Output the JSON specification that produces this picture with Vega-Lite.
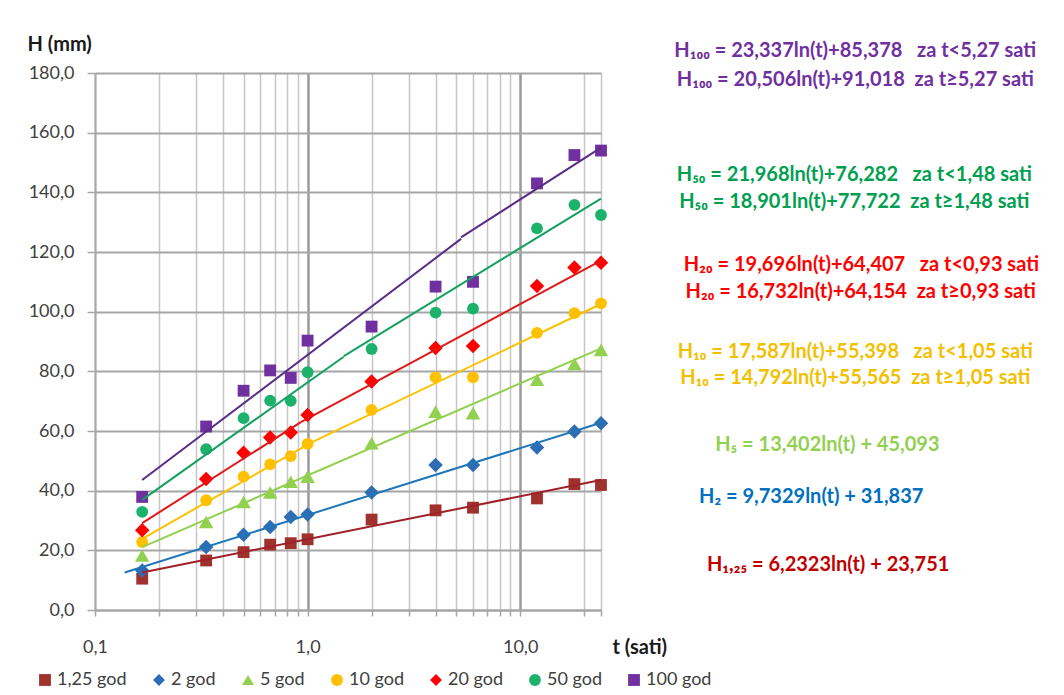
{
  "$schema": "https://vega.github.io/schema/vega-lite/v6.json",
  "width": 506,
  "height": 537,
  "autosize": "none",
  "padding": {"left": 95, "top": 73, "right": 463, "bottom": 85},
  "background": "white",
  "config": {"view": {"stroke": null}, "font": "Lato"},
  "datasets": {
    "pts": [
      {"series": "1,25 god", "t": 0.1667, "H": 10.5}, {"series": "1,25 god", "t": 0.3333, "H": 16.6}, {"series": "1,25 god", "t": 0.5, "H": 19.4}, {"series": "1,25 god", "t": 0.6667, "H": 21.9}, {"series": "1,25 god", "t": 0.8333, "H": 22.4}, {"series": "1,25 god", "t": 1, "H": 23.7}, {"series": "1,25 god", "t": 2, "H": 30.3}, {"series": "1,25 god", "t": 4, "H": 33.4}, {"series": "1,25 god", "t": 6, "H": 34.3}, {"series": "1,25 god", "t": 12, "H": 37.4}, {"series": "1,25 god", "t": 18, "H": 42.2}, {"series": "1,25 god", "t": 24, "H": 41.9},
      {"series": "2 god", "t": 0.1667, "H": 13.2}, {"series": "2 god", "t": 0.3333, "H": 21.1}, {"series": "2 god", "t": 0.5, "H": 25.2}, {"series": "2 god", "t": 0.6667, "H": 27.8}, {"series": "2 god", "t": 0.8333, "H": 31.2}, {"series": "2 god", "t": 1, "H": 32.0}, {"series": "2 god", "t": 2, "H": 39.4}, {"series": "2 god", "t": 4, "H": 48.6}, {"series": "2 god", "t": 6, "H": 48.6}, {"series": "2 god", "t": 12, "H": 54.5}, {"series": "2 god", "t": 18, "H": 59.8}, {"series": "2 god", "t": 24, "H": 62.6},
      {"series": "5 god", "t": 0.1667, "H": 18.3}, {"series": "5 god", "t": 0.3333, "H": 29.5}, {"series": "5 god", "t": 0.5, "H": 36.2}, {"series": "5 god", "t": 0.6667, "H": 39.4}, {"series": "5 god", "t": 0.8333, "H": 43.0}, {"series": "5 god", "t": 1, "H": 44.7}, {"series": "5 god", "t": 2, "H": 55.9}, {"series": "5 god", "t": 4, "H": 66.5}, {"series": "5 god", "t": 6, "H": 66.0}, {"series": "5 god", "t": 12, "H": 77.2}, {"series": "5 god", "t": 18, "H": 82.5}, {"series": "5 god", "t": 24, "H": 87.2},
      {"series": "10 god", "t": 0.1667, "H": 22.8}, {"series": "10 god", "t": 0.3333, "H": 36.8}, {"series": "10 god", "t": 0.5, "H": 44.7}, {"series": "10 god", "t": 0.6667, "H": 48.8}, {"series": "10 god", "t": 0.8333, "H": 51.6}, {"series": "10 god", "t": 1, "H": 55.7}, {"series": "10 god", "t": 2, "H": 67.1}, {"series": "10 god", "t": 4, "H": 78.0}, {"series": "10 god", "t": 6, "H": 78.0}, {"series": "10 god", "t": 12, "H": 92.9}, {"series": "10 god", "t": 18, "H": 99.5}, {"series": "10 god", "t": 24, "H": 102.8},
      {"series": "20 god", "t": 0.1667, "H": 26.7}, {"series": "20 god", "t": 0.3333, "H": 43.9}, {"series": "20 god", "t": 0.5, "H": 52.7}, {"series": "20 god", "t": 0.6667, "H": 57.8}, {"series": "20 god", "t": 0.8333, "H": 59.5}, {"series": "20 god", "t": 1, "H": 65.4}, {"series": "20 god", "t": 2, "H": 76.6}, {"series": "20 god", "t": 4, "H": 87.8}, {"series": "20 god", "t": 6, "H": 88.5}, {"series": "20 god", "t": 12, "H": 108.6}, {"series": "20 god", "t": 18, "H": 114.8}, {"series": "20 god", "t": 24, "H": 116.4},
      {"series": "50 god", "t": 0.1667, "H": 32.9}, {"series": "50 god", "t": 0.3333, "H": 53.9}, {"series": "50 god", "t": 0.5, "H": 64.3}, {"series": "50 god", "t": 0.6667, "H": 70.2}, {"series": "50 god", "t": 0.8333, "H": 70.1}, {"series": "50 god", "t": 1, "H": 79.7}, {"series": "50 god", "t": 2, "H": 87.5}, {"series": "50 god", "t": 4, "H": 99.7}, {"series": "50 god", "t": 6, "H": 101.0}, {"series": "50 god", "t": 12, "H": 127.9}, {"series": "50 god", "t": 18, "H": 135.8}, {"series": "50 god", "t": 24, "H": 132.4},
      {"series": "100 god", "t": 0.1667, "H": 37.9}, {"series": "100 god", "t": 0.3333, "H": 61.5}, {"series": "100 god", "t": 0.5, "H": 73.5}, {"series": "100 god", "t": 0.6667, "H": 80.3}, {"series": "100 god", "t": 0.8333, "H": 77.8}, {"series": "100 god", "t": 1, "H": 90.3}, {"series": "100 god", "t": 2, "H": 95.0}, {"series": "100 god", "t": 4, "H": 108.4}, {"series": "100 god", "t": 6, "H": 110.0}, {"series": "100 god", "t": 12, "H": 143.0}, {"series": "100 god", "t": 18, "H": 152.5}, {"series": "100 god", "t": 24, "H": 154.0}
    ],
    "trend": [
      {"series": "1,25 god", "seg": "a", "t": 0.1667, "H": 12.58}, {"series": "1,25 god", "seg": "a", "t": 24, "H": 43.56},
      {"series": "2 god", "seg": "a", "t": 0.138, "H": 12.56}, {"series": "2 god", "seg": "a", "t": 24, "H": 62.77},
      {"series": "5 god", "seg": "a", "t": 0.1667, "H": 21.08}, {"series": "5 god", "seg": "a", "t": 24, "H": 87.69},
      {"series": "10 god", "seg": "a", "t": 0.1667, "H": 23.88}, {"series": "10 god", "seg": "a", "t": 1.05, "H": 56.26},
      {"series": "10 god", "seg": "b", "t": 1.05, "H": 56.29}, {"series": "10 god", "seg": "b", "t": 24, "H": 102.57},
      {"series": "20 god", "seg": "a", "t": 0.1667, "H": 29.12}, {"series": "20 god", "seg": "a", "t": 0.93, "H": 62.98},
      {"series": "20 god", "seg": "b", "t": 0.93, "H": 62.94}, {"series": "20 god", "seg": "b", "t": 24, "H": 117.1},
      {"series": "50 god", "seg": "a", "t": 0.1667, "H": 36.92}, {"series": "50 god", "seg": "a", "t": 1.48, "H": 84.89},
      {"series": "50 god", "seg": "b", "t": 1.48, "H": 85.13}, {"series": "50 god", "seg": "b", "t": 24, "H": 137.9},
      {"series": "100 god", "seg": "a", "t": 0.1667, "H": 43.56}, {"series": "100 god", "seg": "a", "t": 5.27, "H": 124.4},
      {"series": "100 god", "seg": "b", "t": 5.27, "H": 124.9}, {"series": "100 god", "seg": "b", "t": 24, "H": 155.0}
    ],
    "eqs": [
      {"series": "100 god", "t": 377, "H": 187.4, "label": "H₁₀₀ = 23,337ln(t)+85,378\u00a0\u00a0\u00a0za t<5,27 sati"},
      {"series": "100 god", "t": 377, "H": 177.7, "label": "H₁₀₀ = 20,506ln(t)+91,018\u00a0\u00a0za t≥5,27 sati"},
      {"series": "50 god", "t": 373, "H": 145.8, "label": "H₅₀ = 21,968ln(t)+76,282\u00a0\u00a0\u00a0za t<1,48 sati"},
      {"series": "50 god", "t": 373, "H": 136.8, "label": "H₅₀ = 18,901ln(t)+77,722\u00a0\u00a0za t≥1,48 sati"},
      {"series": "20 god", "t": 403, "H": 115.7, "label": "H₂₀ = 19,696ln(t)+64,407\u00a0\u00a0\u00a0za t<0,93 sati"},
      {"series": "20 god", "t": 400, "H": 106.6, "label": "H₂₀ = 16,732ln(t)+64,154\u00a0\u00a0za t≥0,93 sati"},
      {"series": "10 god", "t": 377, "H": 86.5, "label": "H₁₀ = 17,587ln(t)+55,398\u00a0\u00a0\u00a0za t<1,05 sati"},
      {"series": "10 god", "t": 377, "H": 77.8, "label": "H₁₀ = 14,792ln(t)+55,565\u00a0\u00a0za t≥1,05 sati"},
      {"series": "5 god", "t": 278.6, "H": 55.3, "label": "H₅ = 13,402ln(t) + 45,093"},
      {"series": "2 god", "t": 234, "H": 37.9, "label": "H₂ = 9,7329ln(t) + 31,837"},
      {"series": "1,25 god", "t": 281, "H": 15.1, "label": "H₁,₂₅ = 6,2323ln(t) + 23,751"}
    ]
  },
  "encoding": {
    "x": {
      "field": "t", "type": "quantitative",
      "scale": {"type": "log", "domain": [0.1, 24], "nice": false},
      "axis": {
        "values": [0.1, 0.2, 0.3, 0.4, 0.5, 0.6, 0.7, 0.8, 0.9, 1, 2, 3, 4, 5, 6, 7, 8, 9, 10, 20, 24],
        "labelExpr": "(datum.value == 0.1 || datum.value == 1 || datum.value == 10) ? replace(format(datum.value, '.1f'), '.', ',') : ''",
        "grid": true,
        "gridColor": {"condition": {"test": "datum.value == 1 || datum.value == 10", "value": "#9a9a9a"}, "value": "#c6c6c6"},
        "gridWidth": {"condition": {"test": "datum.value == 1 || datum.value == 10", "value": 2.5}, "value": 1.5},
        "tickColor": "#a6a6a6", "tickSize": 6, "tickWidth": 1.5,
        "domainColor": "#a6a6a6", "domainWidth": 2,
        "labelFontSize": 18, "labelFont": "Lato", "labelColor": "#404040", "labelPadding": 22,
        "labelFlush": false, "labelOverlap": false,
        "title": "t (sati)", "titleX": 517, "titleY": 43, "titleAlign": "left", "titleBaseline": "alphabetic",
        "titleFontSize": 20, "titleFontWeight": "bold", "titleColor": "#1a1a1a", "titleFont": "Lato"
      }
    },
    "y": {
      "field": "H", "type": "quantitative",
      "scale": {"domain": [0, 180], "nice": false},
      "axis": {
        "values": [0, 20, 40, 60, 80, 100, 120, 140, 160, 180],
        "labelExpr": "replace(format(datum.value, '.1f'), '.', ',')",
        "grid": true, "gridColor": "#a6a6a6", "gridWidth": 2,
        "tickColor": "#a6a6a6", "tickSize": 8, "tickWidth": 1.5,
        "domainColor": "#a6a6a6", "domainWidth": 2,
        "labelFontSize": 18, "labelFont": "Lato", "labelColor": "#404040", "labelPadding": 13,
        "title": "H (mm)", "titleAngle": 0, "titleAlign": "left", "titleBaseline": "alphabetic",
        "titleX": -68, "titleY": -23, "titleFontSize": 20, "titleFontWeight": "bold", "titleColor": "#1a1a1a", "titleFont": "Lato"
      }
    }
  },
  "layer": [
    {
      "data": {"name": "pts"},
      "mark": {"type": "point", "filled": true, "opacity": 1},
      "encoding": {
        "size": {"condition": {"test": "datum.series == '2 god' || datum.series == '5 god' || datum.series == '20 god'", "value": 210}, "value": 140},
        "color": {
          "field": "series", "type": "nominal",
          "scale": {"domain": ["1,25 god", "2 god", "5 god", "10 god", "20 god", "50 god", "100 god"],
                    "range": ["#A0322D", "#2E6DB4", "#92D050", "#FFC000", "#FF0000", "#1DB26B", "#7030A0"]},
          "legend": {
            "orient": "none", "legendX": -59, "legendY": 598, "direction": "horizontal",
            "title": null, "symbolSize": 140, "symbolStrokeWidth": 0, "symbolOpacity": 1,
            "labelFontSize": 18, "labelFont": "Lato", "labelColor": "#404040", "columnPadding": 23, "labelOffset": 3
          }
        },
        "shape": {
          "field": "series", "type": "nominal",
          "scale": {"domain": ["1,25 god", "2 god", "5 god", "10 god", "20 god", "50 god", "100 god"],
                    "range": ["square", "diamond", "triangle-up", "circle", "diamond", "circle", "square"]},
          "legend": {
            "orient": "none", "legendX": -59, "legendY": 598, "direction": "horizontal",
            "title": null, "symbolSize": 140, "symbolStrokeWidth": 0, "symbolOpacity": 1,
            "labelFontSize": 18, "labelFont": "Lato", "labelColor": "#404040", "columnPadding": 23, "labelOffset": 3
          }
        }
      }
    },
    {
      "data": {"name": "trend"},
      "mark": {"type": "line", "strokeWidth": 2},
      "encoding": {
        "color": {
          "field": "series", "type": "nominal",
          "scale": {"domain": ["1,25 god", "2 god", "5 god", "10 god", "20 god", "50 god", "100 god"],
                    "range": ["#A0202A", "#1F76B8", "#92D050", "#FFC000", "#E01818", "#14A060", "#5B2C86"]},
          "legend": null
        },
        "detail": {"field": "seg", "type": "nominal"}
      }
    },
    {
      "data": {"name": "eqs"},
      "mark": {"type": "text", "align": "center", "baseline": "middle", "fontSize": 20, "fontWeight": "bold", "font": "Lato"},
      "encoding": {
        "text": {"field": "label", "type": "nominal"},
        "color": {
          "field": "series", "type": "nominal",
          "scale": {"domain": ["1,25 god", "2 god", "5 god", "10 god", "20 god", "50 god", "100 god"],
                    "range": ["#C00000", "#0070C0", "#92D050", "#F2C000", "#FF0000", "#00A050", "#7030A0"]},
          "legend": null
        }
      }
    }
  ],
  "resolve": {"scale": {"color": "independent", "shape": "independent"}}
}
